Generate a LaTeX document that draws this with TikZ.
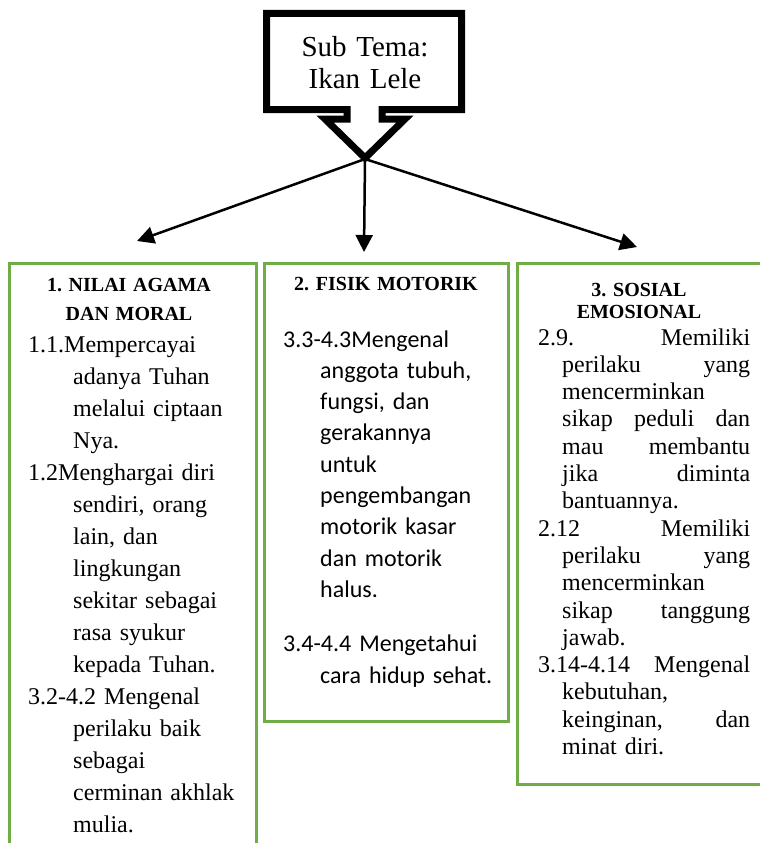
\documentclass[tikz,border=0pt]{standalone}
\usepackage{fontspec}
\setmainfont{Liberation Serif}
\newfontfamily\calibfont{Carlito}
\usetikzlibrary{arrows.meta}
\definecolor{boxgreen}{HTML}{70AD47}
\newcommand{\jfirst}[1]{\leavevmode\hbox to 212pt{#1}}
\newcommand{\jcont}[1]{\leavevmode\hspace*{24pt}\hbox to 188pt{#1}}
\frenchspacing
\begin{document}
\begin{tikzpicture}[x=1pt,y=-1pt,
  gbox/.style={draw=boxgreen,line width=3pt,inner sep=0pt,anchor=north west},
  conn/.style={line width=2.5pt,-{Triangle[length=17pt,width=17pt]}},
  head/.style={inner sep=0pt,anchor=base,align=center,text width=#1},
  body/.style={inner sep=0pt,anchor=base west,align=left,text width=#1},
  callout/.style={draw=black,line width=7pt,fill=white,miter limit=10}
]
\useasboundingbox (0,0) rectangle (760,843);
\begin{scope}
\clip (0,0) rectangle (760,843);
\node[gbox,minimum width=247pt,minimum height=620pt] (b1) at (8,262) {};
\node[gbox,minimum width=244pt,minimum height=458pt] (b2) at (263,262) {};
\node[gbox,minimum width=280pt,minimum height=521pt] (b3) at (516,262) {};
\end{scope}

% connectors
\coordinate (tip) at (365,159);
\coordinate (e1) at (137,241);
\coordinate (e2) at (364,252);
\coordinate (e3) at (637,247);
\draw[conn] (tip) -- (e1);
\draw[conn] (tip) -- (e2);
\draw[conn] (tip) -- (e3);

% callout
\draw[callout] (266.5,13.5) -- (461.5,13.5) -- (461.5,109.5) -- (382,109.5)
  -- (382,119) -- (405,119) -- (365,158) -- (325,119) -- (347,119)
  -- (347,109.5) -- (266.5,109.5) -- cycle;
\node[head=190pt,font=\fontsize{29}{32}\selectfont] (title) at (365,57) {Sub Tema:\\Ikan Lele};

% headings
\node[head=240pt,font=\bfseries\fontsize{20}{29}\selectfont] (h1) at (129,291) {1. NILAI AGAMA\\DAN MORAL};
\node[head=240pt,font=\bfseries\fontsize{20}{30}\selectfont] (h2) at (386,290) {2. FISIK MOTORIK};
\node[head=240pt,font=\bfseries\fontsize{20}{22}\selectfont] (h3) at (639,296) {3. SOSIAL\\EMOSIONAL};

% box 1 text
\node[body=225pt,font=\fontsize{24}{32}\selectfont] (t1) at (28,352) {1.1.Mempercayai\\
\hspace*{45pt}adanya Tuhan\\
\hspace*{45pt}melalui ciptaan\\
\hspace*{45pt}Nya.\\
1.2Menghargai diri\\
\hspace*{45pt}sendiri, orang\\
\hspace*{45pt}lain, dan\\
\hspace*{45pt}lingkungan\\
\hspace*{45pt}sekitar sebagai\\
\hspace*{45pt}rasa syukur\\
\hspace*{45pt}kepada Tuhan.\\
3.2-4.2 Mengenal\\
\hspace*{45pt}perilaku baik\\
\hspace*{45pt}sebagai\\
\hspace*{45pt}cerminan akhlak\\
\hspace*{45pt}mulia.};

% box 2 text
\node[body=220pt,font=\calibfont\fontsize{24}{31.3}\selectfont] (t2) at (283,347) {3.3-4.3Mengenal\\
\hspace*{37pt}anggota tubuh,\\
\hspace*{37pt}fungsi, dan\\
\hspace*{37pt}gerakannya\\
\hspace*{37pt}untuk\\
\hspace*{37pt}pengembangan\\
\hspace*{37pt}motorik kasar\\
\hspace*{37pt}dan motorik\\
\hspace*{37pt}halus.\\[23pt]
3.4-4.4 Mengetahui\\
\hspace*{37pt}cara hidup sehat.};

% box 3 text
\node[body=216pt,font=\fontsize{24}{27.3}\selectfont] (t3) at (538,345) {\jfirst{2.9.\hfill Memiliki}\\
\jcont{perilaku\hfill yang}\\
\hspace*{24pt}mencerminkan\\
\jcont{sikap\hfill peduli\hfill dan}\\
\jcont{mau\hfill membantu}\\
\jcont{jika\hfill diminta}\\
\hspace*{24pt}bantuannya.\\
\jfirst{2.12\hfill Memiliki}\\
\jcont{perilaku\hfill yang}\\
\hspace*{24pt}mencerminkan\\
\jcont{sikap\hfill tanggung}\\
\hspace*{24pt}jawab.\\
\jfirst{3.14-4.14\hfill Mengenal}\\
\hspace*{24pt}kebutuhan,\\
\jcont{keinginan,\hfill dan}\\
\hspace*{24pt}minat diri.};
\end{tikzpicture}
\end{document}
